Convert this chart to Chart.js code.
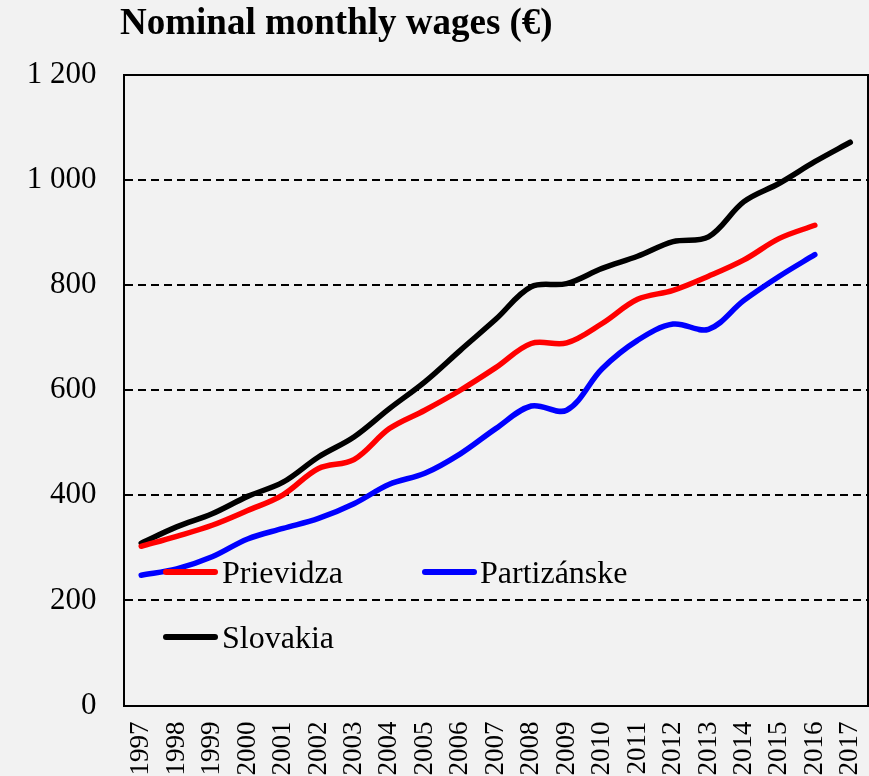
<!DOCTYPE html>
<html>
<head>
<meta charset="utf-8">
<script src="https://cdn.jsdelivr.net/npm/chart.js@4/dist/chart.umd.min.js"></script>
<style>
  html, body { margin: 0; padding: 0; background: #f2f2f2; }
  #wrap { position: relative; width: 869px; height: 776px; overflow: hidden; background: #f2f2f2; }
  canvas { position: absolute; left: 0; top: 0; }
  .title { position: absolute; left: 120px; top: 3px; font-family: "Liberation Serif", "Times New Roman", serif; font-weight: bold; font-size: 37px; line-height: 37px; color: #000; white-space: nowrap; }
  .leg { position: absolute; font-family: "Liberation Serif", "Times New Roman", serif; font-size: 32px; line-height: 32px; color: #000; white-space: nowrap; }
  .legline { position: absolute; height: 6px; border-radius: 3px; }
</style>
</head>
<body>
<div id="wrap">
  <canvas id="c" width="869" height="776"></canvas>
  <div class="title">Nominal monthly wages (€)</div>
  <div class="legline" style="left:163px; top:569px; width:55px; background:#ff0000;"></div>
  <div class="leg" style="left:222px; top:556px;">Prievidza</div>
  <div class="legline" style="left:422px; top:569px; width:55px; background:#0000ff;"></div>
  <div class="leg" style="left:480px; top:556px;">Partizánske</div>
  <div class="legline" style="left:163px; top:634px; width:55px; background:#000000;"></div>
  <div class="leg" style="left:222px; top:621px;">Slovakia</div>
</div>
<script>
const years = ["1997","1998","1999","2000","2001","2002","2003","2004","2005","2006","2007","2008","2009","2010","2011","2012","2013","2014","2015","2016","2017"];
const prievidza = [303, 322, 343, 371, 401, 451, 468, 527, 562, 600, 643, 689, 690, 727, 773, 790, 817, 848, 889, 914, null];
const partizanske = [248, 260, 283, 317, 337, 356, 384, 421, 442, 479, 527, 570, 562, 641, 695, 726, 716, 771, 817, 858, null];
const slovakia = [309, 340, 365, 398, 425, 473, 511, 565, 616, 676, 735, 797, 803, 832, 855, 883, 892, 959, 994, 1035, 1072];
const yTicks = [0, 200, 400, 600, 800, 1000, 1200];

function fmt(v) {
  return String(v).replace(/\B(?=(\d{3})+(?!\d))/g, " ");
}

const borderBox = {
  id: 'borderBox',
  afterDatasetsDraw(chart) {
    const a = chart.chartArea, ctx = chart.ctx;
    ctx.save();
    ctx.strokeStyle = '#000';
    ctx.lineWidth = 2;
    ctx.beginPath();
    ctx.moveTo(a.left, a.top);
    ctx.lineTo(a.right, a.top);
    ctx.lineTo(a.right, a.bottom);
    ctx.stroke();
    ctx.restore();
  }
};

const mk = (label, data, color) => ({
  label, data,
  borderColor: color, backgroundColor: color,
  borderWidth: 5.5, pointRadius: 0, pointHoverRadius: 0,
  tension: 0.35, cubicInterpolationMode: 'default',
  borderCapStyle: 'round', borderJoinStyle: 'round',
  spanGaps: false, fill: false
});

new Chart(document.getElementById('c'), {
  type: 'line',
  data: {
    labels: years,
    datasets: [
      mk('Prievidza', prievidza, '#ff0000'),
      mk('Partizánske', partizanske, '#0000ff'),
      mk('Slovakia', slovakia, '#000000')
    ]
  },
  options: {
    responsive: false,
    animation: false,
    devicePixelRatio: 1,
    layout: { padding: { top: 75, right: 1, left: 0, bottom: 0 } },
    plugins: { legend: { display: false }, title: { display: false }, tooltip: { enabled: false } },
    scales: {
      x: {
        type: 'category',
        offset: true,
        grid: { display: false, drawTicks: false },
        border: { display: true, color: '#000', width: 2 },
        ticks: {
          color: '#000', padding: 16, autoSkip: false,
          minRotation: 90, maxRotation: 90,
          font: { family: '"Liberation Serif", "Times New Roman", serif', size: 27 }
        },
        afterFit(s) { s.height = 70.5; s.paddingLeft = 0; s.paddingRight = 0; }
      },
      y: {
        min: 0, max: 1200,
        afterBuildTicks(s) { s.ticks = yTicks.map(v => ({ value: v })); },
        grid: { color: '#000', lineWidth: 2, drawTicks: false },
        border: { display: true, color: '#000', width: 2, dash: [8, 5] },
        ticks: {
          color: '#000', padding: 27,
          font: { family: '"Liberation Serif", "Times New Roman", serif', size: 31 },
          callback: (v) => fmt(v)
        },
        afterFit(s) { s.width = 123.5; s.paddingTop = 0; s.paddingBottom = 0; }
      }
    }
  },
  plugins: [borderBox]
});
</script>
</body>
</html>
